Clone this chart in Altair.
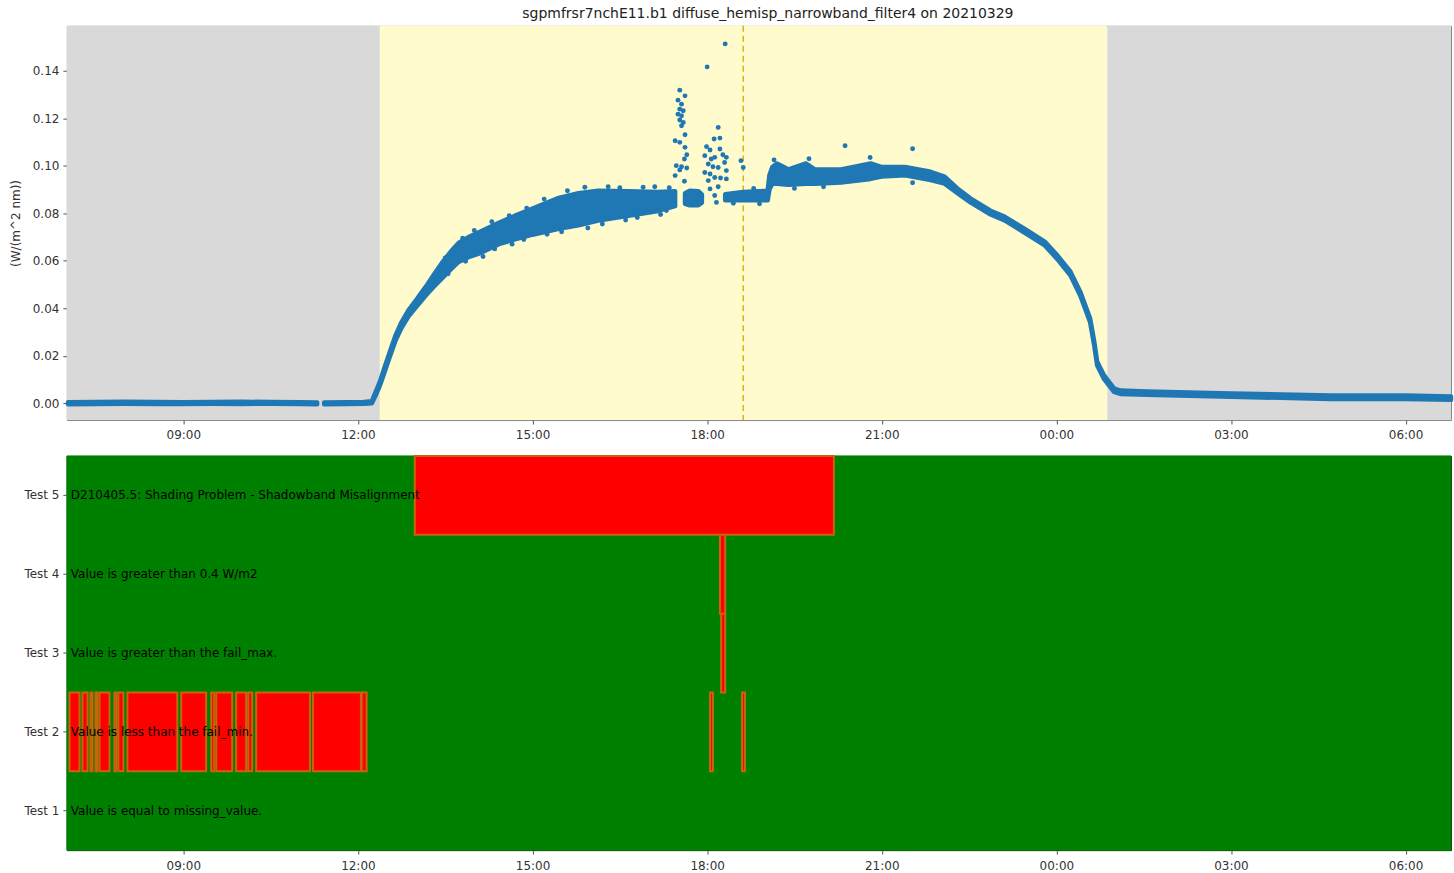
import altair as alt
import pandas as pd

# ---------------- text ----------------
TITLE = "sgpmfrsr7nchE11.b1 diffuse_hemisp_narrowband_filter4 on 20210329"
Y_TITLE = "(W/(m^2 nm))"

# ---------------- axes (hours since 00:00 of 2021-03-29; >24 = next day) ----------------
X_DOMAIN = [7.0, 30.78]
X_TICKS = [9, 12, 15, 18, 21, 24, 27, 30]
Y_DOMAIN = [-0.0071, 0.159]
Y_TICKS = [0.0, 0.02, 0.04, 0.06, 0.08, 0.10, 0.12, 0.14]

# ---------------- night / day shading ----------------
SHADE_START = [7.0, 12.377, 24.875]
SHADE_END = [12.377, 24.875, 30.78]
SHADE_KIND = ["night", "day", "night"]
SOLAR_NOON = [18.62]

# ---------------- scatter band (lower / upper envelope of the dense dots) ----------------
BAND_T_A = [7.02, 7.5, 8.0, 8.5, 9.0, 9.5, 10.0, 10.5, 11.0, 11.30]
BAND_LO_A = [-0.0004, -0.0003, -0.0002, -0.0003, -0.0003, -0.0002, -0.0003, -0.0002, -0.0003, -0.0004]
BAND_HI_A = [0.0004, 0.0005, 0.0006, 0.0005, 0.0004, 0.0005, 0.0006, 0.0005, 0.0004, 0.0003]

BAND_T_B = [11.42, 11.8, 12.1, 12.24, 12.30, 12.38, 12.45, 12.53, 12.65, 12.75, 12.87,
            13.0, 13.17, 13.3, 13.44, 13.6, 13.73, 13.9, 14.08, 14.42, 14.7, 15.0,
            15.45, 15.79, 16.13, 16.65, 17.16, 17.45]
BAND_LO_B = [-0.0004, -0.0003, -0.0002, 0.0000, 0.0030, 0.0075, 0.0125, 0.0183, 0.0266, 0.0318, 0.0366,
             0.0405, 0.0455, 0.0490, 0.0525, 0.0565, 0.0595, 0.0615, 0.0630, 0.0670, 0.0690, 0.0710,
             0.0735, 0.0750, 0.0770, 0.0790, 0.0810, 0.0830]
BAND_HI_B = [0.0003, 0.0004, 0.0005, 0.0008, 0.0045, 0.0092, 0.0145, 0.0203, 0.0288, 0.0342, 0.0392,
             0.0435, 0.0492, 0.0540, 0.0590, 0.0640, 0.0675, 0.0700, 0.0720, 0.0760, 0.0790, 0.0820,
             0.0865, 0.0885, 0.0895, 0.0893, 0.0890, 0.0893]

BAND_T_C = [17.62, 17.70, 17.85, 17.91]
BAND_LO_C = [0.0840, 0.0834, 0.0834, 0.0845]
BAND_HI_C = [0.0885, 0.0895, 0.0893, 0.0880]

BAND_T_D = [18.31, 18.62, 19.04, 19.07, 19.12, 19.2, 19.4, 19.7, 19.85, 20.3, 20.81,
            21.0, 21.4, 21.84, 22.08, 22.30, 22.53, 22.87, 23.11, 23.45, 23.80,
            24.02, 24.24, 24.41, 24.58, 24.65, 24.70, 24.82, 24.99, 25.10, 25.56,
            27.0, 28.71, 30.0, 30.78]
BAND_LO_D = [0.0855, 0.0855, 0.0855, 0.0900, 0.0925, 0.0925, 0.0920, 0.0925, 0.0925, 0.0930, 0.0945,
             0.0955, 0.0960, 0.0940, 0.0925, 0.0885, 0.0845, 0.0795, 0.0770, 0.0719, 0.0665,
             0.0606, 0.0539, 0.0454, 0.0341, 0.0244, 0.0160, 0.0101, 0.0048, 0.0039, 0.0035,
             0.0027, 0.0018, 0.0018, 0.0014]
BAND_HI_D = [0.0880, 0.0890, 0.0895, 0.0960, 0.0995, 0.1010, 0.0985, 0.1010, 0.0985, 0.0985, 0.1010,
             0.0995, 0.0995, 0.0975, 0.0955, 0.0905, 0.0862, 0.0811, 0.0786, 0.0735, 0.0681,
             0.0622, 0.0555, 0.0470, 0.0357, 0.0260, 0.0176, 0.0117, 0.0062, 0.0053, 0.0049,
             0.0041, 0.0032, 0.0032, 0.0028]

# ---------------- individual outlying dots ----------------
DOT_T = [
    17.53, 17.62, 17.50, 17.56, 17.53, 17.59, 17.50, 17.56, 17.53, 17.59, 17.56,
    17.62, 17.45, 17.53, 17.62, 17.65, 17.61, 17.47, 17.56, 17.65, 17.45, 17.61, 17.53,
    18.19, 18.12, 18.22, 17.99, 18.05, 18.22, 18.27, 17.96, 18.07, 18.13, 18.33,
    18.02, 18.10, 18.19, 18.30, 17.96, 18.05, 18.13, 18.33, 18.23, 18.33, 18.19,
    18.05, 18.13, 18.16, 18.02, 18.58, 18.62,
    18.0, 18.31, 20.37, 21.53, 21.53,
]
DOT_V = [
    0.1319, 0.1295, 0.1277, 0.1260, 0.1239, 0.1232, 0.1218, 0.1211, 0.1193, 0.1183, 0.1169,
    0.1131, 0.1106, 0.1099, 0.1078, 0.1047, 0.1029, 0.1001, 0.0996, 0.0991, 0.0959, 0.0935, 0.0983,
    0.1162, 0.1113, 0.1117, 0.1081, 0.1067, 0.1071, 0.1047, 0.1043, 0.1029, 0.1036, 0.1036,
    0.1008, 0.0996, 0.0993, 0.1014, 0.0972, 0.0966, 0.0951, 0.0980, 0.0949, 0.0945, 0.0912,
    0.0903, 0.0875, 0.0846, 0.0938, 0.1022, 0.0993,
    0.1417, 0.1514, 0.1085, 0.1072, 0.0929,
]

# dots that stick out of the dense band
EDGE_T = [13.5, 13.55, 13.8, 13.85, 14.0, 14.15, 14.3, 14.35, 14.6, 14.65, 14.9, 14.85,
          15.2, 15.25, 15.6, 15.5, 15.9, 15.95, 16.3, 16.2, 16.5, 16.6, 16.9, 16.8,
          17.1, 17.2, 17.35, 17.3, 19.15, 19.75, 20.8, 19.5, 20.0, 18.45, 18.8, 18.9]
EDGE_V = [0.0612, 0.0545, 0.0695, 0.0598, 0.0728, 0.0618, 0.0765, 0.0650, 0.0790, 0.0670, 0.0822, 0.0690,
          0.0860, 0.0712, 0.0895, 0.0722, 0.0910, 0.0738, 0.0912, 0.0755, 0.0908, 0.0772, 0.0910, 0.0782,
          0.0912, 0.0795, 0.0908, 0.0812, 0.1025, 0.1030, 0.1035, 0.0905, 0.0912, 0.0842, 0.0905, 0.0840]

# ---------------- QC panel ----------------
TESTS = ["Test 5", "Test 4", "Test 3", "Test 2", "Test 1"]
TEST_DESC = [
    "D210405.5: Shading Problem - Shadowband Misalignment",
    "Value is greater than 0.4 W/m2",
    "Value is greater than the fail_max.",
    "Value is less than the fail_min.",
    "Value is equal to missing_value.",
]
FAIL_TEST = (["Test 5", "Test 4", "Test 3"] + ["Test 2"] * 18)
FAIL_START = [
    12.977, 18.22, 18.24,
    7.045, 7.268, 7.405, 7.492, 7.560, 7.817, 7.885, 8.040, 8.965, 9.480,
    9.567, 9.908, 10.115, 10.252, 11.228, 12.065, 18.05, 18.60,
]
FAIL_END = [
    20.178, 18.31, 18.31,
    7.217, 7.355, 7.440, 7.525, 7.732, 7.852, 7.972, 8.897, 9.393, 9.532,
    9.840, 10.080, 10.183, 11.177, 12.052, 12.150, 18.10, 18.65,
]

# ---------------- build tables ----------------
shade_df = pd.DataFrame({"start": SHADE_START, "end": SHADE_END, "kind": SHADE_KIND})
noon_df = pd.DataFrame({"t": SOLAR_NOON})
band_df = pd.concat([
    pd.DataFrame({"seg": s, "t": t, "lo": lo, "hi": hi})
    for s, t, lo, hi in [("a", BAND_T_A, BAND_LO_A, BAND_HI_A),
                         ("b", BAND_T_B, BAND_LO_B, BAND_HI_B),
                         ("c", BAND_T_C, BAND_LO_C, BAND_HI_C),
                         ("d", BAND_T_D, BAND_LO_D, BAND_HI_D)]
], ignore_index=True)
dot_df = pd.DataFrame({"t": DOT_T + EDGE_T, "v": DOT_V + EDGE_V})
rows_df = pd.DataFrame({"test": TESTS, "desc": TEST_DESC,
                        "start": [X_DOMAIN[0]] * 5, "end": [X_DOMAIN[1]] * 5})
fail_df = pd.DataFrame({"test": FAIL_TEST, "start": FAIL_START, "end": FAIL_END})

FONT = "DejaVu Sans"
W = 1387
H = 395
BLUE = "#1f77b4"
GREEN = "#008000"

label_expr = "(datum.value % 24 < 10 ? '0' : '') + (datum.value % 24) + ':00'"
x_axis = alt.Axis(values=X_TICKS, labelExpr=label_expr, grid=False, domain=False,
                  tickSize=4, tickColor="#555", labelColor="#333", labelFontSize=12,
                  labelFont=FONT, labelPadding=6, title=None)
x_scale = alt.Scale(domain=X_DOMAIN, nice=False, zero=False)
y_scale = alt.Scale(domain=Y_DOMAIN, nice=False, zero=False)

shade = alt.Chart(shade_df).mark_rect().encode(
    x=alt.X("start:Q", scale=x_scale, axis=x_axis),
    x2="end:Q",
    y=alt.datum(Y_DOMAIN[1]),
    y2=alt.datum(Y_DOMAIN[0]),
    color=alt.Color("kind:N", scale=alt.Scale(domain=["night", "day"],
                                               range=["#d9d9d9", "#fffbcc"]), legend=None),
)

noon = alt.Chart(noon_df).mark_rule(color="#d4a800", strokeDash=[6, 4], strokeWidth=1.3).encode(
    x=alt.X("t:Q", scale=x_scale)
)

band = alt.Chart(band_df).mark_area(color=BLUE, stroke=BLUE, strokeWidth=4.5,
                                    strokeJoin="round", opacity=1).encode(
    x=alt.X("t:Q", scale=x_scale),
    y=alt.Y("lo:Q", scale=y_scale,
            axis=alt.Axis(values=Y_TICKS, format=".2f", grid=False, domain=False,
                          tickSize=4, tickColor="#555", labelColor="#333",
                          labelFontSize=12, labelFont=FONT, labelPadding=4,
                          title=Y_TITLE, titleFont=FONT, titleFontSize=12,
                          titleFontWeight="normal", titleColor="#333", titlePadding=10)),
    y2="hi:Q",
    detail="seg:N",
)

dots = alt.Chart(dot_df).mark_circle(color=BLUE, size=24, opacity=1).encode(
    x=alt.X("t:Q", scale=x_scale),
    y=alt.Y("v:Q", scale=y_scale),
)

top = alt.layer(shade, noon, band, dots).properties(
    width=W, height=H,
    title=alt.TitleParams(TITLE, font=FONT, fontSize=14, fontWeight="normal",
                          color="#222", anchor="middle", frame="group", offset=4, dx=9),
    view=alt.ViewBackground(stroke="#888", strokeWidth=1),
)

y_band = alt.Y("test:N", sort=TESTS, scale=alt.Scale(domain=TESTS, paddingInner=0, paddingOuter=0),
               axis=alt.Axis(title=None, domain=False, tickSize=4, tickColor="#555",
                             labelColor="#333", labelFontSize=12, labelFont=FONT,
                             labelPadding=4))

rows = alt.Chart(rows_df).mark_rect(color=GREEN, stroke=GREEN, strokeWidth=1).encode(
    x=alt.X("start:Q", scale=x_scale, axis=x_axis),
    x2="end:Q",
    y=y_band,
)

fails = alt.Chart(fail_df).mark_rect(color="#ff0000", stroke="#c8640a", strokeWidth=2).encode(
    x=alt.X("start:Q", scale=x_scale),
    x2="end:Q",
    y=y_band,
)

descs = alt.Chart(rows_df).mark_text(align="left", baseline="middle", font=FONT,
                                     fontSize=12, color="#000", dx=4).encode(
    x=alt.value(0),
    y=y_band,
    text="desc:N",
)

bottom = alt.layer(rows, fails, descs).properties(
    width=W, height=H,
    view=alt.ViewBackground(fill=GREEN, stroke="#222", strokeWidth=1),
)

chart = alt.vconcat(top, bottom, spacing=36, bounds="flush").properties(
    padding={"left": 8, "top": 5, "right": 0, "bottom": 0},
).configure_view(strokeWidth=1)

chart.save("out.html", embed_options={"renderer": "svg", "actions": False})
